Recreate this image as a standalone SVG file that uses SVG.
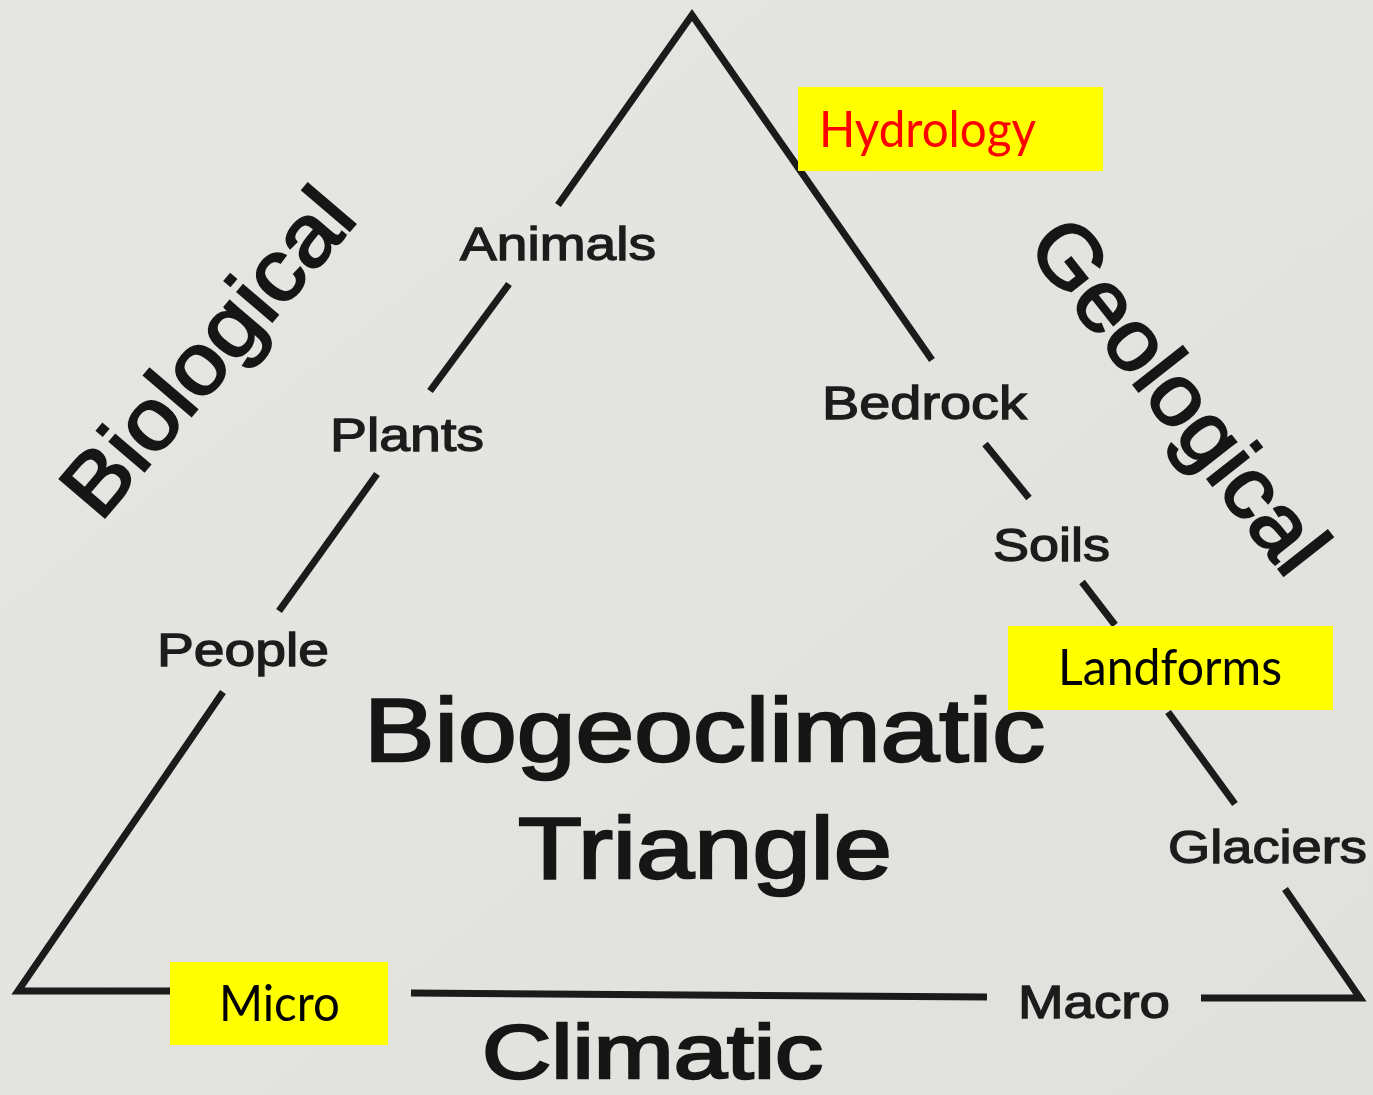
<svg xmlns="http://www.w3.org/2000/svg" width="1373" height="1095" viewBox="0 0 1373 1095">
  <defs>
    <style>
      .ln { fill: none; stroke: #1b1b1b; stroke-width: 7; stroke-linecap: butt; stroke-linejoin: miter; }
      .lbl { font-family: "Liberation Sans", Arial, sans-serif; font-size: 46px; fill: #1c1c1c; stroke: #1c1c1c; stroke-width: 1.3; }
      .big { font-family: "Liberation Sans", Arial, sans-serif; fill: #161616; stroke: #161616; stroke-width: 2.4; }
      .box { fill: #ffff00; }
      .cal { font-family: Lato, "Liberation Sans", sans-serif; font-size: 50px; }
    </style>
    <linearGradient id="bg" x1="0" y1="0" x2="1" y2="1">
      <stop offset="0" stop-color="#e6e6e2"/>
      <stop offset="1" stop-color="#e0e0dc"/>
    </linearGradient>
  </defs>
  <rect x="0" y="0" width="1373" height="1095" fill="url(#bg)"/>

  <g id="connectors">
    <polyline class="ln" points="558,205 692,15 932,360"/>
    <line class="ln" x1="509" y1="284" x2="430" y2="391"/>
    <line class="ln" x1="377" y1="474" x2="279" y2="611"/>
    <polyline class="ln" points="223,692 18,991 172,991"/>
    <line class="ln" x1="411" y1="993" x2="987" y2="997"/>
    <polyline class="ln" points="1201,998 1360,998 1285,889"/>
    <line class="ln" x1="985" y1="444" x2="1029" y2="498"/>
    <line class="ln" x1="1082" y1="582" x2="1115" y2="625"/>
    <line class="ln" x1="1168" y1="712" x2="1235" y2="804"/>
  </g>

  <g id="biological">
    <text class="big" transform="translate(100,523) rotate(-49.5)" font-size="86" textLength="399" lengthAdjust="spacingAndGlyphs">Biological</text>
  </g>
  <g id="geological">
    <text class="big" transform="translate(1025,247) rotate(51.8)" font-size="86" textLength="424" lengthAdjust="spacingAndGlyphs">Geological</text>
  </g>
  <g id="climatic">
    <text class="big" x="482" y="1078" font-size="76" textLength="341" lengthAdjust="spacingAndGlyphs">Climatic</text>
  </g>
  <g id="title">
    <text class="big" x="364" y="761" font-size="89" textLength="681" lengthAdjust="spacingAndGlyphs">Biogeoclimatic</text>
    <text class="big" x="518" y="878" font-size="87" textLength="374" lengthAdjust="spacingAndGlyphs">Triangle</text>
  </g>

  <g id="animals"><text class="lbl" x="460" y="260" textLength="196" lengthAdjust="spacingAndGlyphs">Animals</text></g>
  <g id="plants"><text class="lbl" x="330" y="451" textLength="154" lengthAdjust="spacingAndGlyphs">Plants</text></g>
  <g id="people"><text class="lbl" x="157" y="666" textLength="172" lengthAdjust="spacingAndGlyphs">People</text></g>
  <g id="bedrock"><text class="lbl" x="822" y="419" textLength="205" lengthAdjust="spacingAndGlyphs">Bedrock</text></g>
  <g id="soils"><text class="lbl" x="993" y="561" textLength="117" lengthAdjust="spacingAndGlyphs">Soils</text></g>
  <g id="glaciers"><text class="lbl" x="1168" y="863" textLength="199" lengthAdjust="spacingAndGlyphs">Glaciers</text></g>
  <g id="macro"><text class="lbl" x="1018" y="1018" textLength="152" lengthAdjust="spacingAndGlyphs">Macro</text></g>

  <g id="hydrology">
    <rect class="box" x="798" y="87" width="305" height="84"/>
    <text class="cal" x="819" y="147" fill="#ff0000" textLength="217" lengthAdjust="spacingAndGlyphs">Hydrology</text>
  </g>
  <g id="landforms">
    <rect class="box" x="1008" y="626" width="325" height="84"/>
    <text class="cal" x="1058" y="685" fill="#000000" textLength="224" lengthAdjust="spacingAndGlyphs">Landforms</text>
  </g>
  <g id="micro">
    <rect class="box" x="170" y="962" width="218" height="83"/>
    <text class="cal" x="219" y="1021" fill="#000000" textLength="121" lengthAdjust="spacingAndGlyphs">Micro</text>
  </g>
</svg>
